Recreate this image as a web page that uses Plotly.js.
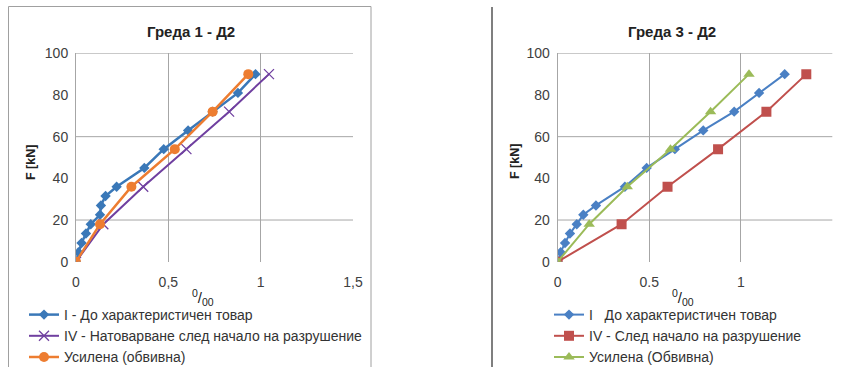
<!DOCTYPE html>
<html><head><meta charset="utf-8">
<script src="https://cdn.plot.ly/plotly-3.0.1.min.js"></script>
<style>html,body{margin:0;padding:0;background:#fff}#c{width:841px;height:367px}</style>
</head><body><div id="c"></div>
<script>
// ---- Greda 1 - D2 ----
const g1_I_x = [0, 0.013, 0.03, 0.054, 0.08, 0.13, 0.135, 0.16, 0.22, 0.37, 0.475, 0.607, 0.74, 0.877, 0.972];
const g1_I_y = [0, 4.5, 9, 13.5, 18, 22.5, 27, 31.5, 36, 45, 54, 63, 72, 81, 90];
const g1_IV_x = [0, 0.148, 0.364, 0.598, 0.829, 1.045];
const g1_IV_y = [0, 18, 36, 54, 72, 90];
const g1_U_x = [0, 0.13, 0.30, 0.535, 0.74, 0.933];
const g1_U_y = [0, 18, 36, 54, 72, 90];
// ---- Greda 3 - D2 ----
const g3_I_x = [0, 0.016, 0.04, 0.067, 0.104, 0.14, 0.209, 0.367, 0.486, 0.64, 0.795, 0.964, 1.10, 1.24];
const g3_I_y = [0, 4.5, 9, 13.5, 18, 22.5, 27, 36, 45, 54, 63, 72, 81, 90];
const g3_IV_x = [0, 0.349, 0.60, 0.876, 1.14, 1.358];
const g3_IV_y = [0, 18, 36, 54, 72, 90];
const g3_U_x = [0, 0.172, 0.38, 0.616, 0.835, 1.045];
const g3_U_y = [0, 18, 36, 54, 72, 90];

const names1 = ["I - До характеристичен товар", "IV - Натоварване след начало на разрушение", "Усилена (обвивна)"];
const names3 = ["I   До характеристичен товар", "IV - След начало на разрушение", "Усилена (Обвивна)"];
const titles = ["Греда 1 - Д2", "Греда 3 - Д2"];
const yTickVals = [0, 20, 40, 60, 80, 100];
const xTickVals = [0, 0.5, 1, 1.5];
const xTickText1 = ["0", "0,5", "1", "1,5"];
const xTickText3 = ["0", "0.5", "1", "1.5"];
const yTitle = "F [kN]";
const xTitle = "<sup>0</sup>/<sub>00</sub>";

const W = 841, H = 367;
const fx = p => p / W, fy = p => 1 - p / H;

const traces = [
  {x: g1_I_x, y: g1_I_y, name: names1[0], xaxis: 'x', yaxis: 'y', legend: 'legend', legendgroup: 'a1',
   mode: 'lines+markers', line: {color: '#3a78b8', width: 2.5}, marker: {symbol: 'diamond', size: 8, color: '#3a78b8'}},
  {x: g1_IV_x, y: g1_IV_y, name: names1[1], xaxis: 'x', yaxis: 'y', legend: 'legend', legendgroup: 'a2',
   mode: 'lines+markers', line: {color: '#7040a0', width: 2}, marker: {symbol: 'x-thin-open', size: 10, color: '#7040a0', line: {color: '#7040a0', width: 1.3}}},
  {x: g1_U_x, y: g1_U_y, name: names1[2], xaxis: 'x', yaxis: 'y', legend: 'legend', legendgroup: 'a3',
   mode: 'lines+markers', line: {color: '#ed7d31', width: 2.5}, marker: {symbol: 'circle', size: 10, color: '#ed7d31'}},
  {x: g3_I_x, y: g3_I_y, name: names3[0], xaxis: 'x2', yaxis: 'y2', legend: 'legend2', legendgroup: 'b1',
   mode: 'lines+markers', line: {color: '#4a80c4', width: 2}, marker: {symbol: 'diamond', size: 8, color: '#4a80c4'}},
  {x: g3_IV_x, y: g3_IV_y, name: names3[1], xaxis: 'x2', yaxis: 'y2', legend: 'legend2', legendgroup: 'b2',
   mode: 'lines+markers', line: {color: '#c0504d', width: 2}, marker: {symbol: 'square', size: 10, color: '#c0504d'}},
  {x: g3_U_x, y: g3_U_y, name: names3[2], xaxis: 'x2', yaxis: 'y2', legend: 'legend2', legendgroup: 'b3',
   mode: 'lines+markers', line: {color: '#9bbb59', width: 2}, marker: {symbol: 'triangle-up', size: 10, color: '#9bbb59'}}
];

const tickFont = {family: 'Liberation Sans, Arial, sans-serif', size: 14, color: '#404040'};
function xa(domain, tt, anchor) {
  return {domain: domain, anchor: anchor, range: [0, 1.5], tickvals: xTickVals, ticktext: tt,
    showgrid: true, gridcolor: '#a6a6a6', gridwidth: 1, zeroline: false, showline: false,
    ticks: '', tickfont: tickFont, ticklabelstandoff: 10, fixedrange: true};
}
function ya(domain, anchor) {
  return {domain: domain, anchor: anchor, range: [0, 100], tickvals: yTickVals,
    showgrid: false, zeroline: false, showline: true, linecolor: '#a6a6a6', linewidth: 1,
    ticks: '', tickfont: tickFont, ticklabelstandoff: 4, fixedrange: true};
}

const shapes = [];
[20, 60, 100].forEach(v => {
  shapes.push({type: 'line', xref: 'x domain', yref: 'y', x0: 0, x1: 1, y0: v, y1: v, line: {color: '#a6a6a6', width: 1}, layer: 'below'});
  shapes.push({type: 'line', xref: 'x2 domain', yref: 'y2', x0: 0, x1: 1, y0: v, y1: v, line: {color: '#a6a6a6', width: 1}, layer: 'below'});
});
// chart frames
shapes.push({type: 'rect', xref: 'paper', yref: 'paper', x0: fx(8.5), x1: fx(371), y0: fy(370), y1: fy(6.5), line: {color: '#a0a0a0', width: 1}});
shapes.push({type: 'line', xref: 'paper', yref: 'paper', x0: fx(492), x1: fx(492), y0: fy(370), y1: fy(7), line: {color: '#7f7f7f', width: 2}});

const titleFont = {family: 'Liberation Sans, Arial, sans-serif', size: 15, color: '#222', weight: 'bold'};
const axTitleFont = {family: 'Liberation Sans, Arial, sans-serif', size: 12.5, color: '#222', weight: 'bold'};
const xtFont = {family: 'Liberation Sans, Arial, sans-serif', size: 15, color: '#222'};
const ann = (text, x, y, font, angle) => ({text: text, x: fx(x), y: fy(y), xref: 'paper', yref: 'paper',
  xanchor: 'center', yanchor: 'middle', showarrow: false, textangle: angle || 0, font: font});
const annotations = [
  ann('<b>' + titles[0] + '</b>', 191, 32, titleFont),
  ann('<b>' + titles[1] + '</b>', 672, 32, titleFont),
  ann('<b>' + yTitle + '</b>', 31, 162, axTitleFont, -90),
  ann('<b>' + yTitle + '</b>', 515, 162, axTitleFont, -90),
  ann(xTitle, 203, 297, xtFont),
  ann(xTitle, 683, 297, xtFont)
];

const legFont = {family: 'Liberation Sans, Arial, sans-serif', size: 14, color: '#333'};
const layout = {
  width: W, height: H, margin: {l: 0, r: 0, t: 0, b: 0, autoexpand: false},
  paper_bgcolor: '#fff', plot_bgcolor: '#fff', showlegend: true,
  xaxis: xa([fx(76), fx(353)], xTickText1, 'y'),
  yaxis: ya([fy(261.7), fy(53.3)], 'x'),
  xaxis2: xa([fx(557.7), fx(832.3)], xTickText3, 'y2'),
  yaxis2: ya([fy(261.7), fy(53.3)], 'x2'),
  legend: {x: fx(24), y: fy(299), xanchor: 'left', yanchor: 'top', font: legFont, bgcolor: 'rgba(0,0,0,0)', tracegroupgap: 0, itemclick: false},
  legend2: {x: fx(549), y: fy(299), xanchor: 'left', yanchor: 'top', font: legFont, bgcolor: 'rgba(0,0,0,0)', tracegroupgap: 0, itemclick: false},
  shapes: shapes, annotations: annotations
};
Plotly.newPlot('c', traces, layout, {staticPlot: true, displayModeBar: false});
</script></body></html>
